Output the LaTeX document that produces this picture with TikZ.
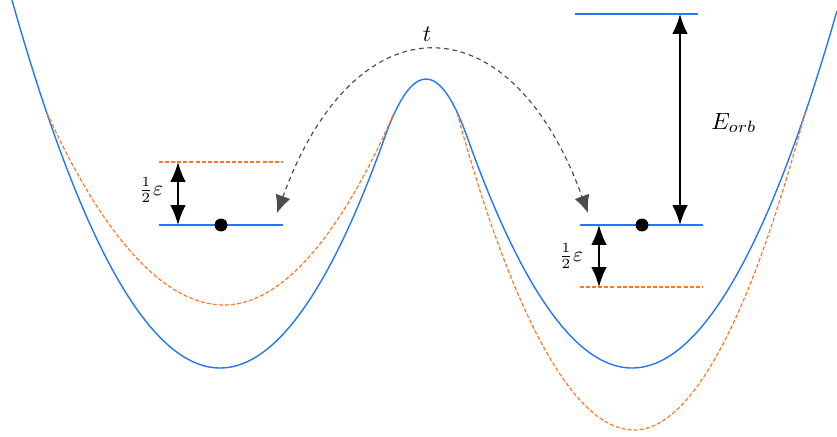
\documentclass[tikz,border=0pt]{standalone}
\usetikzlibrary{arrows.meta}
\definecolor{wellblue}{RGB}{34,119,250}
\definecolor{wellorange}{RGB}{255,118,34}
\begin{document}
\begin{tikzpicture}[x=0.015cm,y=-0.015cm,
  orbital/.style={wellblue,line width=0.6pt},
  biased/.style={wellorange,line width=0.5pt,dash pattern=on 1.7pt off 0.9pt},
  gap/.style={{Latex[length=8.5pt,width=6.6pt]}-{Latex[length=8.5pt,width=6.6pt]},line width=0.7pt},
  hop/.style={{Latex[length=7.5pt,width=6.6pt]}-{Latex[length=7.5pt,width=6.6pt]},black!70,line width=0.5pt,dash pattern=on 2pt off 1.6pt},
  dot/.style={circle,fill,inner sep=0pt,minimum size=5.5pt},
  declare function={
    wl(\x)=0.85*((\x-220)/10)^2;
    wr(\x)=0.85*((\x-632)/10)^2;
    hh(\x)=max(287-abs(wl(\x)-wr(\x)),0)/287;
    pot(\x)=368-min(wl(\x),wr(\x))+71.75*hh(\x)^2;}]
\useasboundingbox (0,0) rectangle (837,437);
\draw[orbital] plot[domain=12:837,samples=220] (\x,{pot(\x)});
\draw[biased] (47,113) parabola bend (224,305) (394,113);
\draw[biased] (457,113) parabola bend (634,430) (805,113);
\draw[orbital] (159,225) -- (283,225);
\draw[biased] (159,162) -- (283,162);
\draw[orbital] (580,225) -- (703,225);
\draw[biased] (580,287) -- (703,287);
\draw[orbital] (575,14) -- (698,14);
\node[dot] (ldot) at (221,225) {};
\node[dot] (rdot) at (642,225) {};
\coordinate (lup) at (178,162);
\coordinate (llow) at (178,225);
\coordinate (rup) at (599,225);
\coordinate (rlow) at (599,287);
\coordinate (etop) at (680,14);
\coordinate (ebot) at (680,225);
\coordinate (ltip) at (277,213);
\coordinate (rtip) at (588,213);
\draw[gap] (lup) -- (llow);
\draw[gap] (rup) -- (rlow);
\draw[gap] (etop) -- (ebot);
\draw[hop] (ltip) .. controls (355,-2) and (510,-2) .. (rtip);
\node (lbl) at (151,190) {\small$\frac{1}{2}\varepsilon$};
\node (rbl) at (571,256) {\small$\frac{1}{2}\varepsilon$};
\node (eorb) at (734,123) {$E_{orb}$};
\node (hopt) at (427,34) {$t$};
\end{tikzpicture}
\end{document}
